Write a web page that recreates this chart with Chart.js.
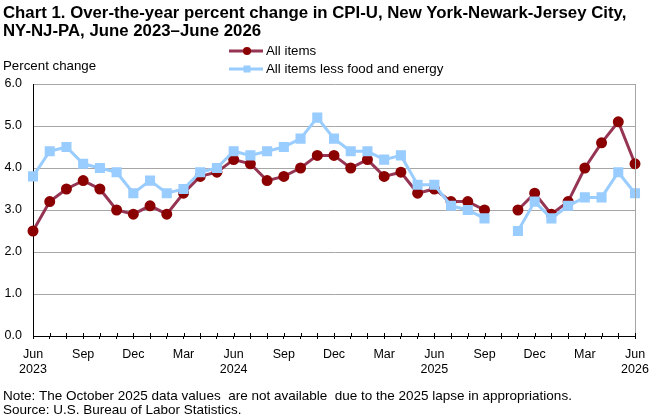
<!DOCTYPE html>
<html>
<head>
<meta charset="utf-8">
<script src="https://cdn.jsdelivr.net/npm/chart.js@4.4.1/dist/chart.umd.min.js"></script>
<style>
  html, body { margin: 0; padding: 0; background: #fff; }
  canvas { display: block; }
</style>
</head>
<body>
<canvas id="cpi-chart" width="661" height="420"></canvas>
<script>
// ─── Data ─────────────────────────────────────────────
const categories = [
    'Jun 2023', 'Jul 2023', 'Aug 2023', 'Sep 2023', 'Oct 2023', 'Nov 2023', 'Dec 2023',
    'Jan 2024', 'Feb 2024', 'Mar 2024', 'Apr 2024', 'May 2024', 'Jun 2024', 'Jul 2024',
    'Aug 2024', 'Sep 2024', 'Oct 2024', 'Nov 2024', 'Dec 2024', 'Jan 2025', 'Feb 2025',
    'Mar 2025', 'Apr 2025', 'May 2025', 'Jun 2025', 'Jul 2025', 'Aug 2025', 'Sep 2025',
    'Oct 2025', 'Nov 2025', 'Dec 2025', 'Jan 2026', 'Feb 2026', 'Mar 2026', 'Apr 2026',
    'May 2026', 'Jun 2026',
];

const allItems = [
    2.5, 3.2, 3.5, 3.7, 3.5, 3.0, 2.9, 3.1, 2.9, 3.4, 3.8, 3.9,
    4.2, 4.1, 3.7, 3.8, 4.0, 4.3, 4.3, 4.0, 4.2, 3.8, 3.9, 3.4,
    3.5, 3.2, 3.2, 3.0, null, 3.0, 3.4, 2.9, 3.2, 4.0, 4.6, 5.1,
    4.1,
];

const lessFoodEnergy = [
    3.8, 4.4, 4.5, 4.1, 4.0, 3.9, 3.4, 3.7, 3.4, 3.5, 3.9, 4.0,
    4.4, 4.3, 4.4, 4.5, 4.7, 5.2, 4.7, 4.4, 4.4, 4.2, 4.3, 3.6,
    3.6, 3.1, 3.0, 2.8, null, 2.5, 3.2, 2.8, 3.1, 3.3, 3.3, 3.9,
    3.4,
];

const tickLabels = [
    ['Jun', '2023'], '', '', 'Sep', '', '', 'Dec', '', '', 'Mar', '', '',
    ['Jun', '2024'], '', '', 'Sep', '', '', 'Dec', '', '', 'Mar', '', '',
    ['Jun', '2025'], '', '', 'Sep', '', '', 'Dec', '', '', 'Mar', '', '',
    ['Jun', '2026'],
];

const titleLines = [
    'Chart 1. Over-the-year percent change in CPI-U, New York-Newark-Jersey City,',
    'NY-NJ-PA, June 2023\u2013June 2026',
];
const noteLines = [
    'Note: The October 2025 data values  are not available  due to the 2025 lapse in appropriations.',
    'Source: U.S. Bureau of Labor Statistics.',
];

// ─── Styles ───────────────────────────────────────────
const FONT = "'Liberation Sans', Arial, sans-serif";
const RED_LINE  = '#953553';
const RED_POINT = '#8b0000';
const BLUE      = '#99ccff';

Chart.defaults.font.family = FONT;
Chart.defaults.font.size = 12;
Chart.defaults.color = '#000';

// ─── Decorations (title, legend, notes, frame) ───────
const decorations = {
    id: 'decorations',
    afterDraw(chart) {
        const { ctx, chartArea } = chart;
        ctx.save();

        // right frame line
        ctx.strokeStyle = '#a6a6a6';
        ctx.lineWidth = 1;
        ctx.beginPath();
        ctx.moveTo(chartArea.right + 0.5, chartArea.top);
        ctx.lineTo(chartArea.right + 0.5, chartArea.bottom);
        ctx.stroke();

        // x tick marks also cross above the axis
        const xs = chart.scales.x;
        ctx.strokeStyle = '#000';
        ctx.beginPath();
        categories.forEach((_, i) => {
            const x = Math.round(xs.getPixelForTick(i)) + 0.5;
            ctx.moveTo(x, chartArea.bottom - 3);
            ctx.lineTo(x, chartArea.bottom);
        });
        ctx.stroke();

        // title
        ctx.fillStyle = '#000';
        ctx.textBaseline = 'middle';
        ctx.textAlign = 'left';
        ctx.font = `bold 16.8px ${FONT}`;
        ctx.fillText(titleLines[0], 3, 13);
        ctx.fillText(titleLines[1], 3, 31);

        // y-axis title
        ctx.font = `13.3px ${FONT}`;
        ctx.fillText('Percent change', 3, 66);

        // legend
        const legend = [
            { label: 'All items', line: RED_LINE, point: RED_POINT, style: 'circle', y: 51 },
            { label: 'All items less food and energy', line: BLUE, point: BLUE, style: 'rect', y: 69 },
        ];
        legend.forEach(item => {
            ctx.strokeStyle = item.line;
            ctx.lineWidth = 3;
            ctx.beginPath();
            ctx.moveTo(229, item.y);
            ctx.lineTo(263, item.y);
            ctx.stroke();
            ctx.fillStyle = item.point;
            if (item.style === 'circle') {
                ctx.beginPath();
                ctx.arc(247, item.y, 4, 0, Math.PI * 2);
                ctx.fill();
            } else {
                ctx.fillRect(243.5, item.y - 3.5, 7, 7);
            }
            ctx.fillStyle = '#000';
            ctx.font = `13.3px ${FONT}`;
            ctx.fillText(item.label, 266, item.y);
        });

        // notes
        ctx.font = `13.5px ${FONT}`;
        ctx.fillText(noteLines[0], 3, 396);
        ctx.fillText(noteLines[1], 3, 410);

        ctx.restore();
    },
};

// ─── Chart ───────────────────────────────────────────
const ctx = document.getElementById('cpi-chart').getContext('2d');

new Chart(ctx, {
    type: 'line',
    data: {
        labels: categories,
        datasets: [
            {
                label: 'All items',
                data: allItems,
                borderColor: RED_LINE,
                backgroundColor: RED_POINT,
                pointBackgroundColor: RED_POINT,
                pointBorderColor: RED_POINT,
                pointStyle: 'circle',
                pointRadius: 4,
                borderWidth: 3,
                tension: 0,
                spanGaps: false,
                order: 2,
            },
            {
                label: 'All items less food and energy',
                data: lessFoodEnergy,
                borderColor: BLUE,
                backgroundColor: BLUE,
                pointBackgroundColor: BLUE,
                pointBorderColor: BLUE,
                pointStyle: 'rect',
                pointRadius: 5,
                borderWidth: 3,
                tension: 0,
                spanGaps: false,
                order: 1,
            },
        ],
    },
    options: {
        responsive: false,
        animation: false,
        layout: { padding: { top: 84, right: 26, left: 0, bottom: 0 } },
        plugins: {
            legend: { display: false },
            title: { display: false },
            tooltip: { enabled: false },
        },
        scales: {
            x: {
                offset: false,
                afterFit: s => { s.height = 84; },
                grid: {
                    drawOnChartArea: false,
                    drawTicks: true,
                    tickLength: 3,
                    color: '#000',
                },
                border: { color: '#000', width: 1 },
                ticks: {
                    autoSkip: false,
                    maxRotation: 0,
                    minRotation: 0,
                    padding: 8,
                    font: { size: 12.5 },
                    callback: (v, i) => tickLabels[i],
                },
            },
            y: {
                min: 0,
                max: 6,
                afterFit: s => { s.width = 33; },
                grid: {
                    color: '#a6a6a6',
                    drawTicks: false,
                },
                border: { color: '#000', width: 1 },
                ticks: {
                    stepSize: 1,
                    padding: 11,
                    font: { size: 12.5 },
                    callback: v => v.toFixed(1),
                },
            },
        },
    },
    plugins: [decorations],
});
</script>
</body>
</html>
